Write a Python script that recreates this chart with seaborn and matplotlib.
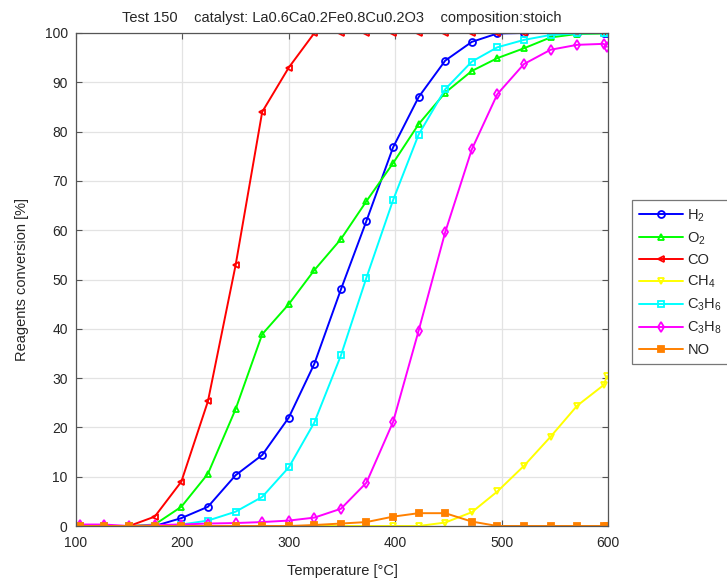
import matplotlib
matplotlib.use("Agg")
import matplotlib.pyplot as plt
import seaborn as sns

sns.set_style("white")
plt.rcParams["font.family"] = ["Liberation Sans", "DejaVu Sans"]
plt.rcParams["mathtext.fontset"] = "custom"
plt.rcParams["mathtext.rm"] = "Liberation Sans"
plt.rcParams["mathtext.it"] = "Liberation Sans"
plt.rcParams["mathtext.default"] = "regular"

# Measured oven temperatures [°C]
temperature = [104, 126, 150, 174, 199, 224, 250, 275, 300, 324, 349,
               373, 398, 422, 447, 472, 496, 521, 546, 571, 596, 599]

# Conversion of each reagent [%]
h2 = [0, 0, 0, 0, 1.6, 3.9, 10.3, 14.4, 22.0, 32.9, 48.0,
      61.9, 76.8, 87.0, 94.4, 98.2, 99.9, 100, 100, 100, 100, 100]
o2 = [0, 0, 0, 0.3, 3.9, 10.6, 23.7, 38.9, 45.0, 51.9, 58.2,
      65.9, 73.6, 81.5, 87.9, 92.3, 94.9, 96.9, 99.1, 99.8, 99.9, 100]
co = [0, 0, 0, 1.9, 9.0, 25.3, 52.9, 84.0, 93.0, 100, 100,
      100, 100, 100, 100, 100, 100, 100, 100, 100, 100, 100]
ch4 = [0, 0, 0, 0, 0, 0, 0, 0, 0, 0, 0,
       0, 0, 0, 0.7, 2.8, 7.0, 12.2, 18.1, 24.4, 28.6, 30.4]
c3h6 = [0, 0, 0, 0, 0.3, 1.1, 2.9, 5.9, 11.9, 21.0, 34.6,
        50.4, 66.1, 79.4, 88.6, 94.2, 97.1, 98.6, 99.6, 99.9, 100, 100]
c3h8 = [0.3, 0.3, 0, 0.2, 0.3, 0.5, 0.6, 0.8, 1.1, 1.7, 3.5,
        8.8, 21.1, 39.6, 59.6, 76.4, 87.6, 93.7, 96.6, 97.6, 97.8, 97.2]
no = [0, 0, 0, 0, 0, 0, 0, 0, 0, 0.2, 0.5,
      0.8, 1.9, 2.6, 2.6, 0.9, 0, 0, 0, 0, 0, 0]

series = [
    ("H$_2$", h2, "#0000ff", "o", False, 5.0),
    ("O$_2$", o2, "#00ff00", "^", False, 5.0),
    ("CO", co, "#ff0000", "<", False, 5.0),
    ("CH$_4$", ch4, "#ffff00", "v", False, 5.0),
    ("C$_3$H$_6$", c3h6, "#00ffff", "s", False, 4.5),
    ("C$_3$H$_8$", c3h8, "#ff00ff", "d", False, 5.0),
    ("NO", no, "#ff8000", "s", True, 4.2),
]

fig = plt.figure(figsize=(7.27, 5.85), dpi=100)
ax = fig.add_axes([76 / 727, 1 - 526 / 585, (608 - 76) / 727, (526 - 33) / 585])

for name, vals, color, marker, filled, msize in series:
    sns.lineplot(x=temperature, y=vals, ax=ax, color=color, marker=marker,
                 markersize=msize, markeredgewidth=1.3, linewidth=1.4,
                 markerfacecolor=color if filled else "none",
                 markeredgecolor=color, label=name, sort=False,
                 estimator=None)

ax.set_xlim(100, 600)
ax.set_ylim(0, 100)
ax.set_xticks(range(100, 601, 100))
ax.set_yticks(range(0, 101, 10))
ax.grid(True, color="#e3e3e3", linewidth=0.9)
ax.set_axisbelow(True)
for sp in ax.spines.values():
    sp.set_visible(True)
    sp.set_color("#555555")
    sp.set_linewidth(0.9)
ax.tick_params(direction="in", length=4, width=0.8, colors="#555555",
               labelcolor="#262626", labelsize=10, top=True, right=True,
               bottom=True, left=True)
ax.tick_params(axis="x", pad=7)
ax.tick_params(axis="y", pad=6)

ax.set_xlabel("Temperature [°C]", fontsize=10.5, color="#262626", labelpad=10)
ax.set_ylabel("Reagents conversion [%]", fontsize=10.5, color="#262626",
              labelpad=11)
ax.set_title("Test 150    catalyst: La0.6Ca0.2Fe0.8Cu0.2O3    composition:stoich",
             fontsize=10.5, color="#262626", pad=8)

leg = ax.legend(loc="upper left", bbox_to_anchor=(632 / 727, 1 - 200 / 585),
                bbox_transform=fig.transFigure, fontsize=10.5, frameon=True,
                fancybox=False, edgecolor="#555555", handlelength=3.0,
                borderpad=0.5, labelspacing=0.45, handletextpad=0.3,
                borderaxespad=0)
leg.get_frame().set_linewidth(0.9)

fig.savefig("out.png", dpi=100)
